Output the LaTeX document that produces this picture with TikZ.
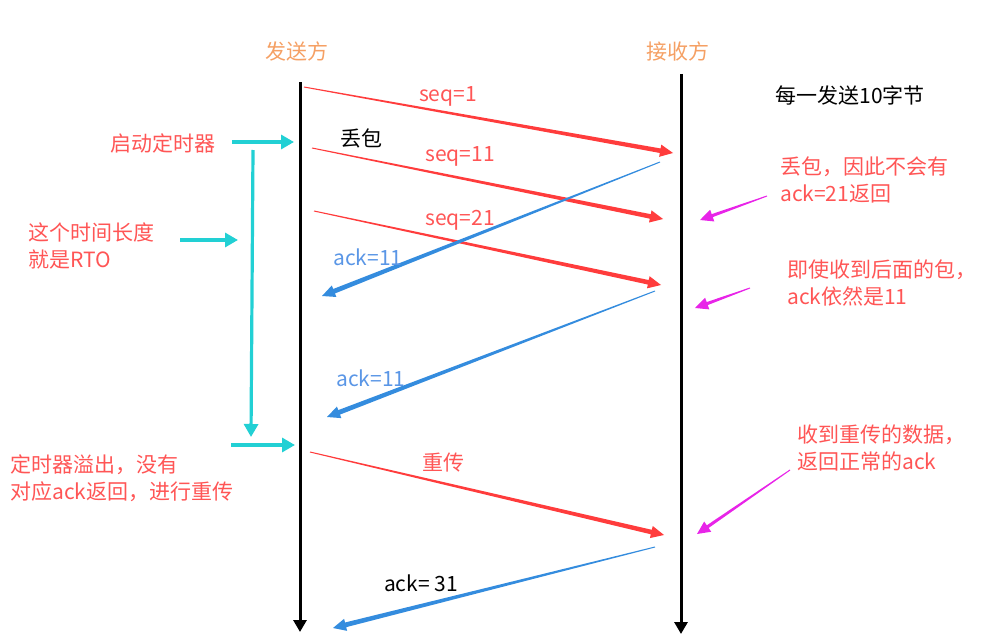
\documentclass[tikz,border=0pt]{standalone}
\usepackage{fontspec}
\newfontfamily\cjk{Noto Sans CJK SC}
\usetikzlibrary{positioning, arrows.meta, calc}

\definecolor{sendred}{RGB}{255,60,60}
\definecolor{notered}{RGB}{255,85,85}
\definecolor{ackblue}{RGB}{52,140,222}
\definecolor{acktext}{RGB}{90,150,230}
\definecolor{timercyan}{RGB}{34,208,212}
\definecolor{pointmag}{RGB}{232,36,232}
\definecolor{partyorange}{RGB}{245,160,100}

% tapered arrow: colour, from, to, shaft half-width
\newcommand{\taperarrow}[4]{%
  \coordinate (tb) at ($(#3)!13pt!(#2)$);
  \fill[#1] ($(#2)!0.5pt!90:(#3)$) -- ($(tb)!#4!90:(#3)$) -- ($(tb)!6.2pt!90:(#3)$)
    -- (#3) -- ($(tb)!6.2pt!-90:(#3)$) -- ($(tb)!#4!-90:(#3)$)
    -- ($(#2)!0.5pt!-90:(#3)$) -- cycle;
}

\begin{document}
\begin{tikzpicture}[
    x=1pt, y=-1pt,
    font=\cjk\fontsize{21}{27}\selectfont,
    lifeline/.style={
        draw=black, line width=3pt,
        -{Triangle[length=12pt, width=13pt]}
    },
    party/.style={text=partyorange, inner sep=0pt},
    seqtxt/.style={text=notered, inner sep=0pt},
    acktxt/.style={text=acktext, inner sep=0pt},
    plain/.style={text=black, inner sep=0pt},
    note/.style={text=notered, inner sep=0pt, align=left, anchor=west},
    timer/.style={
        draw=timercyan, line width=3.2pt,
        -{Triangle[length=13pt, width=14pt]}
    }
]
\useasboundingbox (0,0) rectangle (993,634);

% ============ LIFELINES ============
\coordinate (sTop) at (300,82);
\coordinate (sBot) at (300,632);
\coordinate (rTop) at (681,74);
\coordinate (rBot) at (681,634);
\draw[lifeline] (sTop) -- (sBot);
\draw[lifeline] (rTop) -- (rBot);

\node[party] (sender) at (297,51) {发送方};
\node[party] (receiver) at (678,51) {接收方};
\node[plain] (unit) at (850,95) {每一发送10字节};

% ============ SEGMENTS (red) ============
\coordinate (d1s) at (304,87);  \coordinate (d1e) at (673,153);
\coordinate (d2s) at (312,148); \coordinate (d2e) at (663,219);
\coordinate (d3s) at (314,211); \coordinate (d3e) at (661,285);
\coordinate (d4s) at (310,452); \coordinate (d4e) at (664,535);
\taperarrow{sendred}{d1s}{d1e}{2.3pt}
\taperarrow{sendred}{d2s}{d2e}{2.3pt}
\taperarrow{sendred}{d3s}{d3e}{2.3pt}
\taperarrow{sendred}{d4s}{d4e}{2.3pt}

\node[seqtxt] (seq1) at (448,96) {seq=1};
\node[plain] (lost) at (361,138) {丢包};
\node[seqtxt] (seq11) at (460,156) {seq=11};
\node[seqtxt] (seq21) at (460,220) {seq=21};
\node[seqtxt] (resend) at (443,463) {重传};

% ============ ACKS (blue) ============
\coordinate (a1s) at (660,162); \coordinate (a1e) at (322,296);
\coordinate (a2s) at (655,291); \coordinate (a2e) at (327,417);
\coordinate (a3s) at (655,547); \coordinate (a3e) at (333,628);
\taperarrow{ackblue}{a1s}{a1e}{2.4pt}
\taperarrow{ackblue}{a2s}{a2e}{2.4pt}
\taperarrow{ackblue}{a3s}{a3e}{2.4pt}

\node[acktxt] (ackA) at (368,257) {ack=11};
\node[acktxt] (ackB) at (371,378) {ack=11};
\node[plain] (ackC) at (421,583) {ack= 31};

% ============ TIMER (left side) ============
\node[note] (startTimer) at (110,143) {启动定时器};
\node[note] (rto) at (28,246) {这个时间长度\\就是RTO};
\node[note] (timeout) at (10,478) {定时器溢出，没有\\对应ack返回，进行重传};

\coordinate (t1s) at (232,142); \coordinate (t1e) at (294,142);
\coordinate (tvs) at (253,150); \coordinate (tve) at (251,437);
\coordinate (t2s) at (180,240); \coordinate (t2e) at (238,240);
\coordinate (t3s) at (231,445); \coordinate (t3e) at (295,445);
\draw[timer] (t1s) -- (t1e);
\draw[timer] (tvs) -- (tve);
\draw[timer] (t2s) -- (t2e);
\draw[timer] (t3s) -- (t3e);

% ============ NOTES (right side) ============
\node[note] (noAck) at (780,180) {丢包，因此不会有\\ack=21返回};
\node[note] (still) at (787,283) {即使收到后面的包，\\ack依然是11};
\node[note] (normal) at (797,448) {收到重传的数据，\\返回正常的ack};

\coordinate (m1s) at (767,196); \coordinate (m1e) at (700,220);
\coordinate (m2s) at (750,288); \coordinate (m2e) at (695,308);
\coordinate (m3s) at (790,470); \coordinate (m3e) at (697,534);
\taperarrow{pointmag}{m1s}{m1e}{1.6pt}
\taperarrow{pointmag}{m2s}{m2e}{1.6pt}
\taperarrow{pointmag}{m3s}{m3e}{1.6pt}

\end{tikzpicture}
\end{document}
